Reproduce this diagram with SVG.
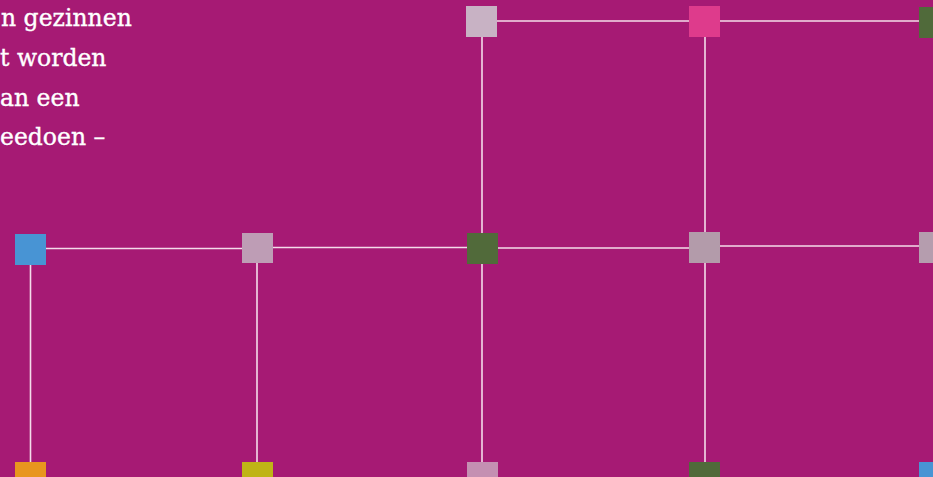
<svg xmlns="http://www.w3.org/2000/svg" width="933" height="477" viewBox="0 0 933 477">
<style>
.t{font-family:"DejaVu Serif","Liberation Serif",serif;font-size:23.5px;fill:#ffffff;stroke:#ffffff;stroke-width:0.35}
.c{stroke:#f4dcea;stroke-width:1.6;fill:none}
</style>
<rect width="933" height="477" fill="#A61A74"/>
<g id="text">
<text class="t" x="1" y="26">n gezinnen</text>
<text class="t" x="0" y="66">t worden</text>
<text class="t" x="0" y="106">an een</text>
<text class="t" x="0" y="145">eedoen –</text>
</g>
<g id="connectors">
<line class="c" x1="497" y1="21" x2="689" y2="21"/>
<line class="c" x1="720" y1="21" x2="919" y2="21"/>
<line class="c" x1="46" y1="248.5" x2="242" y2="248.5"/>
<line class="c" x1="273" y1="247.5" x2="467" y2="247.5"/>
<line class="c" x1="498" y1="248" x2="689" y2="248"/>
<line class="c" x1="720" y1="246" x2="919" y2="246"/>
<line class="c" x1="30.5" y1="265" x2="30.5" y2="462"/>
<line class="c" x1="257" y1="263" x2="257" y2="462"/>
<line class="c" x1="482" y1="37" x2="482" y2="462"/>
<line class="c" x1="705" y1="37" x2="705" y2="462"/>
</g>
<g id="n1"><rect x="466" y="6" width="31" height="31" fill="#C8B2C4"/></g>
<g id="n2"><rect x="689" y="6" width="31" height="31" fill="#DE3B8C"/></g>
<g id="n3"><rect x="919" y="7" width="31" height="31" fill="#506A3A"/></g>
<g id="n4"><rect x="15" y="234" width="31" height="31" fill="#4894D4"/></g>
<g id="n5"><rect x="242" y="233" width="31" height="30" fill="#BE9DB5"/></g>
<g id="n6"><rect x="467" y="233" width="31" height="31" fill="#516A3A"/></g>
<g id="n7"><rect x="689" y="232" width="31" height="31" fill="#B39BAA"/></g>
<g id="n8"><rect x="919" y="232" width="31" height="31" fill="#B59DAE"/></g>
<g id="n9"><rect x="15" y="462" width="31" height="31" fill="#E8961E"/></g>
<g id="n10"><rect x="242" y="462" width="31" height="31" fill="#BFB416"/></g>
<g id="n11"><rect x="467" y="462" width="31" height="31" fill="#C490B2"/></g>
<g id="n12"><rect x="689" y="462" width="31" height="31" fill="#506A3A"/></g>
<g id="n13"><rect x="919" y="462" width="31" height="31" fill="#4894D4"/></g>
</svg>
